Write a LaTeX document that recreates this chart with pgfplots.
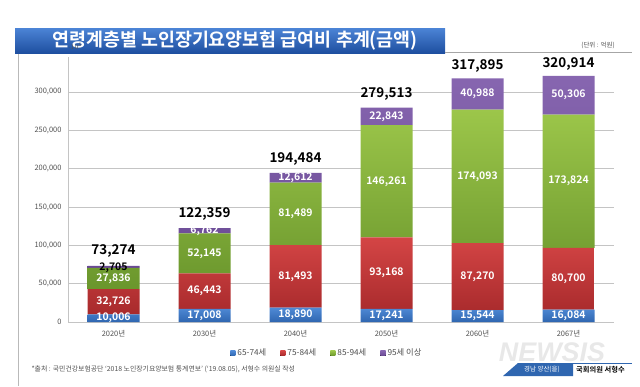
\documentclass[border=0pt]{standalone}
\usepackage{fontspec}
\setmainfont{Noto Sans CJK KR}[BoldFont={Noto Sans CJK KR Bold}]
\newfontfamily\wm{Liberation Sans}
\usepackage{pgfplots}
\pgfplotsset{compat=1.18}
\definecolor{bluetop}{HTML}{4F8AD6}
\definecolor{bluebot}{HTML}{2F66B0}
\definecolor{redtop}{HTML}{D44545}
\definecolor{redbot}{HTML}{A82A2C}
\definecolor{greentop}{HTML}{9CC64A}
\definecolor{greenbot}{HTML}{6A962C}
\definecolor{purptop}{HTML}{8766B0}
\definecolor{purpbot}{HTML}{6A4A94}
\definecolor{titletop}{HTML}{4A82D4}
\definecolor{titlebot}{HTML}{1E4FA0}
\definecolor{txtgray}{HTML}{505050}
\definecolor{gridgray}{HTML}{C4C4C4}
\begin{document}
\begin{tikzpicture}[x=1bp,y=1bp]
\path[use as bounding box] (0,0) rectangle (640,386);
% frame
\draw[gray!55, line width=0.8bp] (18,333) -- (18,0);
\draw[gray!55, line width=0.6bp] (18,333) -- (55,333);
% title bar
\shade[top color=titletop, bottom color=titlebot] (15,333) rectangle (445,357);
\node[white, inner sep=0pt, font=\bfseries\fontsize{18.5}{19}\selectfont] at (235,345.5) {연령계층별 노인장기요양보험 급여비 추계(금액)};
\draw[gray!70, line width=0.6bp] (445,333.5) -- (632,333.5);
\node[font=\fontsize{6.5}{7}\selectfont, txtgray] at (598,341) {(단위 : 억원)};

\begin{axis}[
  at={(68bp,64bp)}, anchor=south west,
  scale only axis, width=546bp, height=264.5bp,
  ybar stacked, bar width=52bp,
  xmin=-0.5, xmax=5.5, ymin=0, ymax=345000,
  xtick={0,1,2,3,4,5},
  xticklabels={2020년,2030년,2040년,2050년,2060년,2067년},
  ytick={0,50000,100000,150000,200000,250000,300000},
  yticklabels={0,{50,000},{100,000},{150,000},{200,000},{250,000},{300,000}},
  axis x line*=bottom, axis y line*=left,
  axis line style={gridgray, line width=0.8bp},
  ymajorgrids, grid style={gridgray, line width=0.8bp},
  major tick length=0pt,
  tick label style={font=\fontsize{7.5}{8}\selectfont, text=txtgray},
  xticklabel style={yshift=-5bp},
  yticklabel style={xshift=-3bp},
  legend style={at={(0.474,-0.118)}, anchor=center, draw=none, fill=none,
    legend columns=4, font=\fontsize{8.3}{9}\selectfont, text=txtgray,
    /tikz/every even column/.append style={column sep=12bp}},
  legend image code/.code={\fill[#1] (0,-2.6bp) rectangle (5.2bp,2.6bp);},
]
\addplot[draw=none, top color=bluetop, bottom color=bluebot] coordinates {(0,10006) (1,17008) (2,18890) (3,17241) (4,15544) (5,16084)};
\addlegendentry{65-74세}
\addplot[draw=none, top color=redtop, bottom color=redbot] coordinates {(0,32726) (1,46443) (2,81493) (3,93168) (4,87270) (5,80700)};
\addlegendentry{75-84세}
\addplot[draw=none, top color=greentop, bottom color=greenbot] coordinates {(0,27836) (1,52145) (2,81489) (3,146261) (4,174093) (5,173824)};
\addlegendentry{85-94세}
\addplot[draw=none, top color=purptop, bottom color=purpbot] coordinates {(0,2705) (1,6762) (2,12612) (3,22843) (4,40988) (5,50306)};
\addlegendentry{95세 이상}
\end{axis}

\begin{axis}[
  at={(68bp,64bp)}, anchor=south west,
  scale only axis, width=546bp, height=264.5bp,
  xmin=-0.5, xmax=5.5, ymin=0, ymax=345000,
  hide axis,
]
\addplot[draw=none, mark=none, point meta=explicit symbolic, nodes near coords,
  nodes near coords align=center,
  every node near coord/.append style={anchor=center, text=white, font=\bfseries\fontsize{10.5}{11}\selectfont}]
  table[x=x, y=y, meta=lab] {
x y lab
0 5003 10,006
0 26369 32,726
0 56650 27,836
1 8504 17,008
1 40230 46,443
1 89524 52,145
1 118977 6,762
2 9445 18,890
2 59637 81,493
2 141128 81,489
2 188178 12,612
3 8621 17,241
3 63825 93,168
3 183540 146,261
3 268092 22,843
4 7772 15,544
4 59179 87,270
4 189861 174,093
4 297401 40,988
5 8042 16,084
5 56434 80,700
5 183696 173,824
5 295761 50,306
};
\addplot[draw=none, mark=none, point meta=explicit symbolic, nodes near coords,
  nodes near coords align=center,
  every node near coord/.append style={anchor=center, text=black, font=\bfseries\fontsize{10.5}{11}\selectfont}]
  table[x=x, y=y, meta=lab] {
x y lab
0 71000 2,705
};
\addplot[draw=none, mark=none, point meta=explicit symbolic, nodes near coords,
  every node near coord/.append style={anchor=south, yshift=1bp, text=black, font=\bfseries\fontsize{13.5}{14}\selectfont}]
  table[x=x, y=y, meta=lab] {
x y lab
0 79000 73,274
1 127000 122,359
2 199000 194,484
3 283000 279,513
4 320000 317,895
5 322000 320,914
};
\end{axis}

% footnote
\node[anchor=west, font=\fontsize{6.9}{7}\selectfont, txtgray] at (28,17) {*출처 : 국민건강보험공단 `2018 노인장기요양보험 통계연보' (`19.08.05), 서형수 의원실 작성};
% watermark / credit
\node[inner sep=0pt, font=\wm\bfseries\itshape\fontsize{27}{27}\selectfont, gray!18] at (552,34) {NEWSIS};
\fill[bluebot] (503,10) -- (573,10) -- (573,23) -- (518,23) -- cycle;
\draw[bluebot, line width=0.8bp] (573,23) -- (632,23);
\node[inner sep=1pt, font=\fontsize{6.5}{7}\selectfont, white] at (542,16.5) {경남 양산(을)};
\node[inner sep=1pt, anchor=west, font=\bfseries\fontsize{7.3}{8}\selectfont, black] at (575,16.5) {국회의원 서형수};
\end{tikzpicture}
\end{document}
